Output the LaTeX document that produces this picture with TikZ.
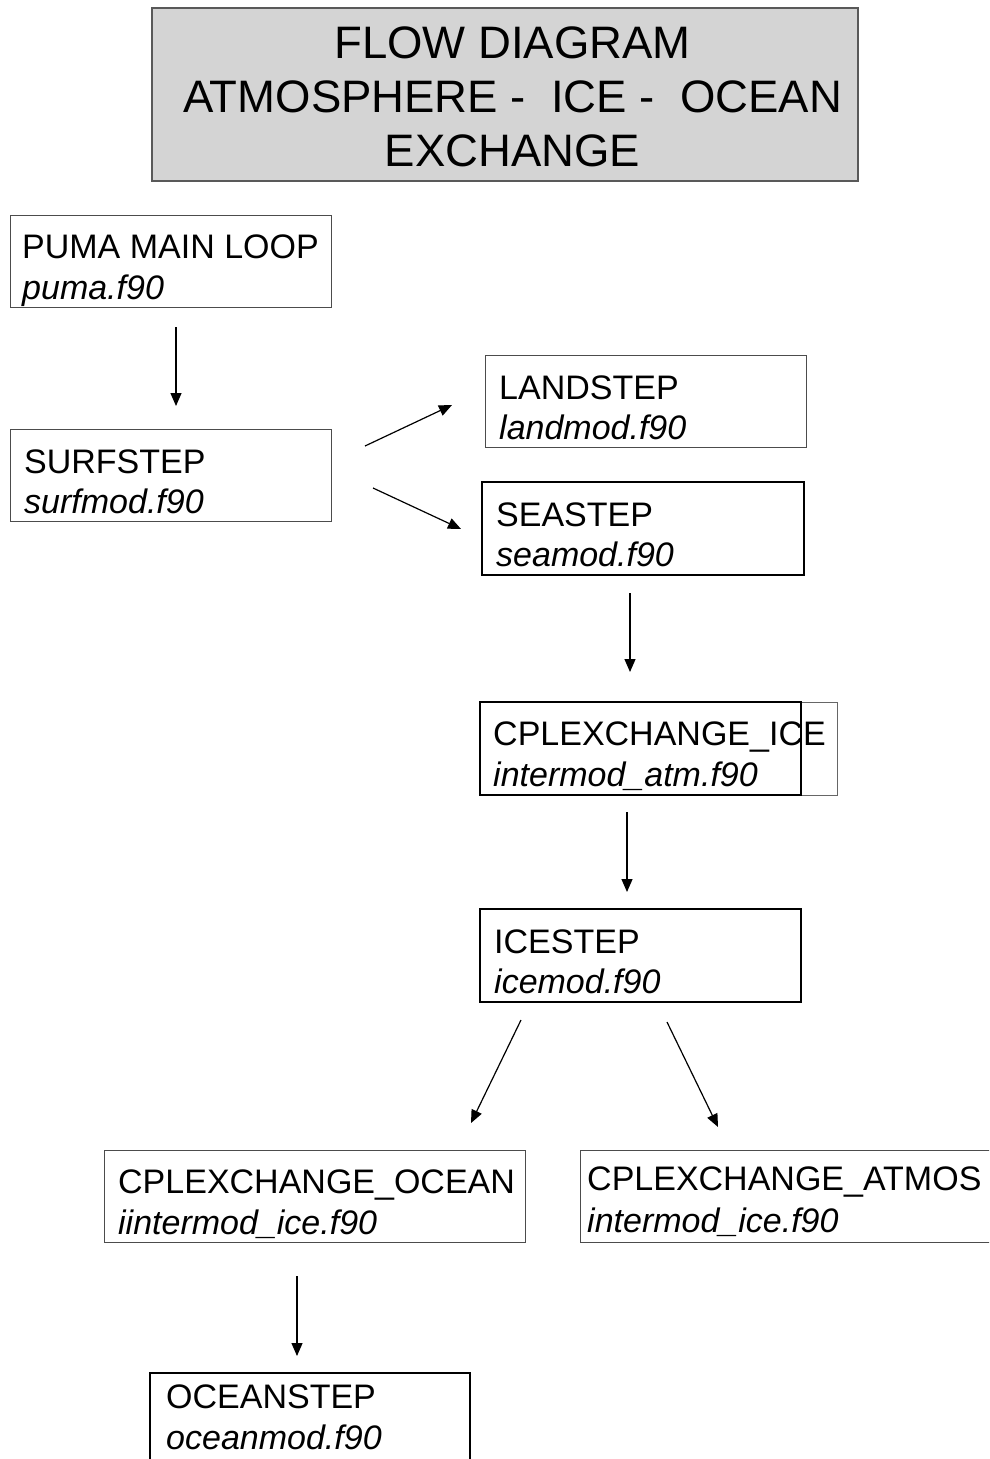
\documentclass[tikz,border=0pt]{standalone}
\usepackage{fontspec}
\setmainfont{Liberation Sans}
\usetikzlibrary{arrows.meta,calc}
\begin{document}
\begin{tikzpicture}[x=1pt,y=-1pt,
  box/.style={draw=#1,rectangle,anchor=north west,inner sep=0pt,outer sep=0pt},
  thinbox/.style={box=black!70,line width=1pt},
  boldbox/.style={box=black,line width=2pt},
  titlebox/.style={box=black!65,line width=1.4pt,fill=black!17},
  ttl/.style={font=\fontsize{45.5}{54}\selectfont,anchor=base,inner sep=0pt},
  nm/.style={font=\fontsize{34}{41}\selectfont,anchor=base west,inner sep=0pt},
  fl/.style={font=\fontsize{34}{41}\selectfont\itshape,anchor=base west,inner sep=0pt},
  arr/.style={line width=1.2pt,-{Triangle[length=13pt,width=11pt]}}]
\useasboundingbox (0,0) rectangle (989,1459);
\clip (0,0) rectangle (989,1459);

% title
\node[titlebox,minimum width=706pt,minimum height=173pt] (title) at (152,8) {};
\node[ttl] (t1) at (512.5,58) {FLOW DIAGRAM};
\node[ttl] (t2) at (512.5,112) {ATMOSPHERE -\ \ ICE -\ \ OCEAN};
\node[ttl] (t3) at (512.5,166) {EXCHANGE};

% boxes
\node[thinbox,minimum width=321pt,minimum height=92pt] (puma) at (10,215) {};
\node[nm] at ($(puma.north west)+(12,43)$) {PUMA MAIN LOOP};
\node[fl] at ($(puma.north west)+(12,84)$) {puma.f90};

\node[thinbox,minimum width=321pt,minimum height=92pt] (surf) at (10,429) {};
\node[nm] at ($(surf.north west)+(14,44)$) {SURFSTEP};
\node[fl] at ($(surf.north west)+(14,84)$) {surfmod.f90};

\node[thinbox,minimum width=321pt,minimum height=92pt] (land) at (485,355) {};
\node[nm] at ($(land.north west)+(14,44)$) {LANDSTEP};
\node[fl] at ($(land.north west)+(14,84)$) {landmod.f90};

\node[boldbox,minimum width=322pt,minimum height=93pt] (sea) at (482,482) {};
\node[nm] at ($(sea.north west)+(14,44)$) {SEASTEP};
\node[fl] at ($(sea.north west)+(14,84)$) {seamod.f90};

\node[box=black!60,line width=1pt,minimum width=357pt,minimum height=93pt] (cpliceouter) at (480,702) {};
\node[box=black,line width=1.5pt,minimum width=321pt,minimum height=93pt] (cplice) at (480,702) {};
\node[nm] at ($(cplice.north west)+(13,43)$) {CPLEXCHANGE\_ICE};
\node[fl] at ($(cplice.north west)+(13,84)$) {intermod\_atm.f90};

\node[boldbox,minimum width=321pt,minimum height=93pt] (ice) at (480,909) {};
\node[nm] at ($(ice.north west)+(14,44)$) {ICESTEP};
\node[fl] at ($(ice.north west)+(14,84)$) {icemod.f90};

\node[thinbox,minimum width=421pt,minimum height=92pt] (cplocean) at (104,1150) {};
\node[nm] at ($(cplocean.north west)+(14,43)$) {CPLEXCHANGE\_OCEAN};
\node[fl] at ($(cplocean.north west)+(14,84)$) {iintermod\_ice.f90};

\node[thinbox,minimum width=430pt,minimum height=92pt] (cplatmos) at (580,1150) {};
\node[nm] at ($(cplatmos.north west)+(7,40)$) {CPLEXCHANGE\_ATMOS};
\node[fl] at ($(cplatmos.north west)+(7,82)$) {intermod\_ice.f90};

\node[boldbox,minimum width=320pt,minimum height=110pt] (oceanstep) at (150,1373) {};
\node[nm] at ($(oceanstep.north west)+(16,35)$) {OCEANSTEP};
\node[fl] at ($(oceanstep.north west)+(16,76)$) {oceanmod.f90};

% connectors
\draw[arr] ($(puma.south west)+(166,20)$) -- ($(surf.north west)+(166,-23)$);
\draw[arr] ($(surf.north east)+(34,17)$) -- ($(land.south west)+(-33,-42)$);
\draw[arr] ($(surf.north east)+(42,59)$) -- ($(sea.north west)+(-21,47)$);
\draw[arr] ($(sea.south west)+(148,18)$) -- ($(cplice.north west)+(150,-30)$);
\draw[arr] ($(cplice.south west)+(147,17)$) -- ($(ice.north west)+(147,-17)$);
\draw[arr] ($(ice.south west)+(41,18)$) -- ($(cplocean.north east)+(-54,-27)$);
\draw[arr] ($(ice.south west)+(187,20)$) -- ($(cplatmos.north west)+(138,-23)$);
\draw[arr] ($(cplocean.south west)+(193,34)$) -- ($(oceanstep.north west)+(147,-17)$);
\end{tikzpicture}
\end{document}
